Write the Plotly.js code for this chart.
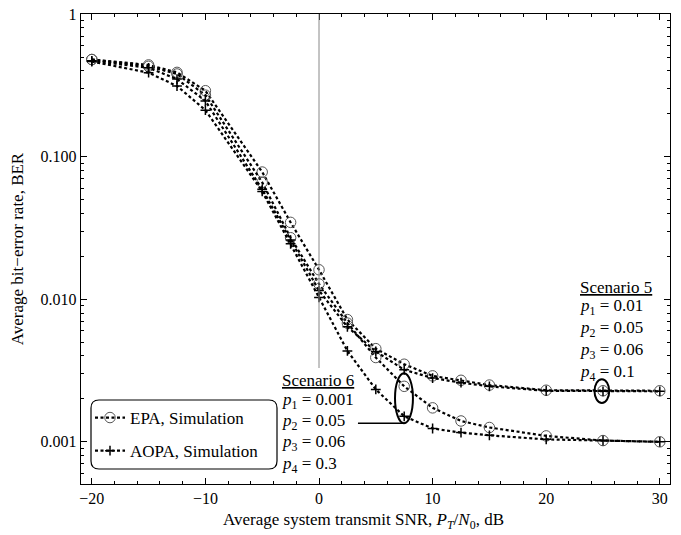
<!DOCTYPE html>
<html>
<head>
<meta charset="utf-8">
<script src="https://cdn.plot.ly/plotly-3.0.1.min.js"></script>
<style>html,body{margin:0;padding:0;background:#fff;}#chart{width:681px;height:535px;}</style>
</head>
<body>
<div id="chart"></div>
<script>
// ---- data ----
const snr = [-20, -15, -12.5, -10, -5, -2.5, 0, 2.5, 5, 7.5, 10, 12.5, 15, 20, 25, 30];
const berEpaS5  = [0.48, 0.44, 0.39, 0.29, 0.078, 0.0346, 0.0161, 0.0072, 0.0045, 0.0035, 0.0029, 0.0027, 0.0025, 0.0023, 0.00228, 0.00228];
const berEpaS6  = [0.48, 0.43, 0.38, 0.27, 0.066, 0.027, 0.0128, 0.0068, 0.0039, 0.00245, 0.00173, 0.0014, 0.00126, 0.0011, 0.00102, 0.00100];
const berAopaS5 = [0.47, 0.42, 0.35, 0.246, 0.059, 0.026, 0.0115, 0.0064, 0.0043, 0.0032, 0.0028, 0.0026, 0.00245, 0.00228, 0.00226, 0.00226];
const berAopaS6 = [0.465, 0.388, 0.313, 0.212, 0.057, 0.0245, 0.0103, 0.00434, 0.00233, 0.00151, 0.00124, 0.00116, 0.00111, 0.00104, 0.00102, 0.00100];

const xTickVals = [-20, -10, 0, 10, 20, 30];
const xTickText = ['\u221220', '\u221210', '0', '10', '20', '30'];
const yTickVals = [0.001, 0.01, 0.1, 1];
const yTickText = ['0.001', '0.010', '0.100', '1'];

const legendNames = ['EPA, Simulation', 'AOPA, Simulation'];
const scenario5Lines = ['<u>Scenario 5</u>', '<i>p</i><sub>1</sub> = 0.01', '<i>p</i><sub>2</sub> = 0.05', '<i>p</i><sub>3</sub> = 0.06', '<i>p</i><sub>4</sub> = 0.1'];
const scenario6Lines = ['<u>Scenario 6</u>', '<i>p</i><sub>1</sub> = 0.001', '<i>p</i><sub>2</sub> = 0.05', '<i>p</i><sub>3</sub> = 0.06', '<i>p</i><sub>4</sub> = 0.3'];
const yTitle = 'Average bit\u2212error rate, BER';
const xTitle = 'Average system transmit SNR, <i>P</i><sub><i>T</i></sub>/<i>N</i><sub>0</sub>, dB';

// ---- geometry helpers (pixel -> paper) ----
const L = 81, R = 670, T = 14, B = 484;
const W = R - L, H = B - T;
const PX = p => (p - L) / W;
const PY = p => (B - p) / H;

const FONT = 'Liberation Serif, Times New Roman, serif';
const lineStyle = {color: '#000', width: 2.2, dash: '3px,2.5px'};
const circleMarker = {symbol: 'circle-open', size: 10.5, color: '#555', line: {width: 1, color: '#555'}};
const plusMarker = {symbol: 'cross-thin-open', size: 7, color: '#000', line: {width: 1.5, color: '#000'}};

const traces = [
  {x: snr, y: berEpaS5, mode: 'lines+markers', line: lineStyle, marker: circleMarker, name: legendNames[0], legendgroup: 'a', showlegend: true},
  {x: snr, y: berEpaS6, mode: 'lines+markers', line: lineStyle, marker: circleMarker, name: legendNames[0], legendgroup: 'a', showlegend: false},
  {x: snr, y: berAopaS5, mode: 'lines+markers', line: lineStyle, marker: plusMarker, name: legendNames[1], legendgroup: 'b', showlegend: true},
  {x: snr, y: berAopaS6, mode: 'lines+markers', line: lineStyle, marker: plusMarker, name: legendNames[1], legendgroup: 'b', showlegend: false}
];

// rounded legend box
function roundRect(x0, y0, x1, y1, r) {
  const X = PX, Y = PY;
  return 'M' + X(x0 + r) + ',' + Y(y0) +
    ' L' + X(x1 - r) + ',' + Y(y0) +
    ' Q' + X(x1) + ',' + Y(y0) + ' ' + X(x1) + ',' + Y(y0 + r) +
    ' L' + X(x1) + ',' + Y(y1 - r) +
    ' Q' + X(x1) + ',' + Y(y1) + ' ' + X(x1 - r) + ',' + Y(y1) +
    ' L' + X(x0 + r) + ',' + Y(y1) +
    ' Q' + X(x0) + ',' + Y(y1) + ' ' + X(x0) + ',' + Y(y1 - r) +
    ' L' + X(x0) + ',' + Y(y0 + r) +
    ' Q' + X(x0) + ',' + Y(y0) + ' ' + X(x0 + r) + ',' + Y(y0) + ' Z';
}

const shapes = [
  {type: 'line', xref: 'x', yref: 'paper', x0: 0, x1: 0, y0: PY(368), y1: 1, line: {color: '#888', width: 1}},
  {type: 'circle', xref: 'x', yref: 'y', x0: 24.25, x1: 25.55, y0: 0.00187, y1: 0.00275, line: {color: '#000', width: 2}},
  {type: 'circle', xref: 'x', yref: 'y', x0: 6.69, x1: 8.27, y0: 0.00135, y1: 0.00303, line: {color: '#000', width: 2}},
  {type: 'line', xref: 'x', yref: 'y', x0: 3.43, x1: 7.45, y0: 0.00135, y1: 0.00135, line: {color: '#000', width: 1.6}},
  {type: 'path', xref: 'paper', yref: 'paper', path: roundRect(91, 400, 277, 469, 8), line: {color: '#000', width: 1.2}}
];

const annotations = [];
const s5y = [287, 307, 329, 351, 373];
scenario5Lines.forEach((t, i) => annotations.push({
  text: t, xref: 'paper', yref: 'paper', x: PX(578), y: PY(s5y[i]), xanchor: 'left', yanchor: 'middle',
  showarrow: false, font: {family: FONT, size: 17, color: '#000'}
}));
const s6y = [380, 401, 422, 443, 465];
scenario6Lines.forEach((t, i) => annotations.push({
  text: t, xref: 'paper', yref: 'paper', x: PX(280), y: PY(s6y[i]), xanchor: 'left', yanchor: 'middle',
  showarrow: false, font: {family: FONT, size: 17, color: '#000'}
}));
annotations.push({
  text: xTitle, xref: 'paper', yref: 'paper',
  x: PX(363.5), y: PY(521), xanchor: 'center', yanchor: 'middle', showarrow: false,
  font: {family: FONT, size: 17, color: '#000'}
});

const layout = {
  width: 681, height: 535,
  margin: {l: L, r: 681 - R, t: T, b: 535 - B},
  paper_bgcolor: '#fff', plot_bgcolor: '#fff',
  font: {family: FONT, size: 16, color: '#000'},
  showlegend: true,
  legend: {
    x: PX(90), y: PY(400), xanchor: 'left', yanchor: 'top',
    bgcolor: 'rgba(0,0,0,0)', borderwidth: 0,
    font: {family: FONT, size: 17, color: '#000'},
    tracegroupgap: 8, traceorder: 'grouped'
  },
  xaxis: {
    range: [(L - 319) / 11.36, (R - 319) / 11.36],
    tickvals: xTickVals, ticktext: xTickText,
    ticks: 'inside', ticklen: 6, tickwidth: 1, tickcolor: '#000',
    minor: {dtick: 2, ticks: 'inside', ticklen: 3, tickcolor: '#000', tick0: 0},
    showline: true, linecolor: '#000', linewidth: 1.2, mirror: 'ticks',
    showgrid: false, zeroline: false,
    tickfont: {family: FONT, size: 16, color: '#000'}
  },
  yaxis: {
    type: 'log',
    range: [-3.296, 0.0006],
    tickvals: yTickVals, ticktext: yTickText,
    ticks: 'inside', ticklen: 6, tickwidth: 1, tickcolor: '#000',
    minor: {dtick: 'D1', ticks: 'inside', ticklen: 3, tickcolor: '#000'},
    showline: true, linecolor: '#000', linewidth: 1.2, mirror: 'ticks',
    showgrid: false, zeroline: false,
    tickfont: {family: FONT, size: 16, color: '#000'},
    // leading no-break spaces lift the centred title to where the reference has it
    title: {text: '\u00a0'.repeat(14) + yTitle, font: {family: FONT, size: 17, color: '#000'}, standoff: 12}
  },
  shapes: shapes,
  annotations: annotations
};

Plotly.newPlot('chart', traces, layout, {staticPlot: true, displayModeBar: false});
</script>
</body>
</html>
